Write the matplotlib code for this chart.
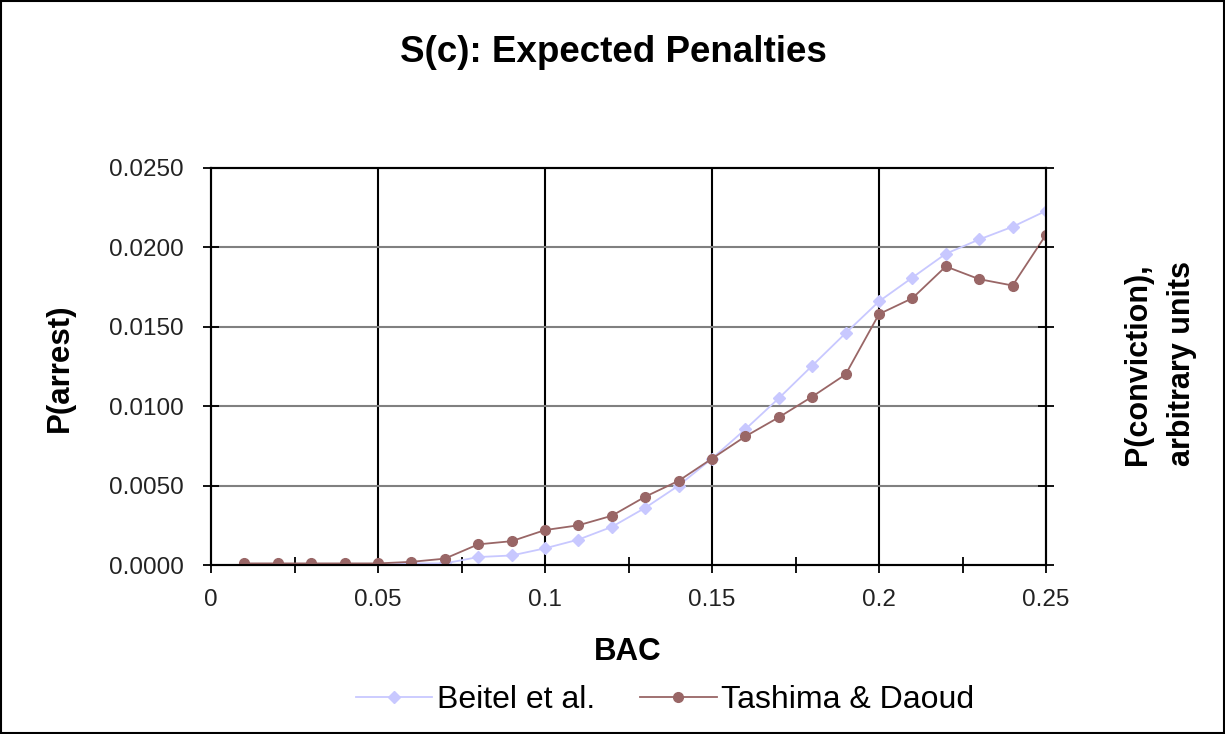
import matplotlib
matplotlib.use("Agg")
import matplotlib.pyplot as plt
from matplotlib.ticker import MultipleLocator, FormatStrFormatter, FixedLocator
from matplotlib.patches import Rectangle

plt.rcParams['font.family'] = ['Liberation Sans', 'DejaVu Sans']

# BAC values and the two curves
bac = [0.01, 0.02, 0.03, 0.04, 0.05, 0.06, 0.07, 0.08, 0.09, 0.10, 0.11, 0.12, 0.13,
       0.14, 0.15, 0.16, 0.17, 0.18, 0.19, 0.20, 0.21, 0.22, 0.23, 0.24, 0.25]
beitel = [0.0000, 0.0000, 0.0000, 0.0000, 0.0000, 0.0001, 0.0001, 0.0005, 0.0006,
          0.00105, 0.0016, 0.0024, 0.0036, 0.0050, 0.0067, 0.00855, 0.0105, 0.01255,
          0.0146, 0.0166, 0.0181, 0.0196, 0.0205, 0.0213, 0.0223]
tashima = [0.0001, 0.0001, 0.0001, 0.0001, 0.0001, 0.0002, 0.0004, 0.0013, 0.0015,
           0.0022, 0.0025, 0.0031, 0.0043, 0.0053, 0.0067, 0.0081, 0.0093, 0.0106,
           0.0120, 0.0158, 0.0168, 0.0188, 0.0180, 0.0176, 0.0208]

x_ticks = [0, 0.05, 0.1, 0.15, 0.2, 0.25]
x_labels = ["0", "0.05", "0.1", "0.15", "0.2", "0.25"]

W, H = 1225, 734
fig = plt.figure(figsize=(W / 100, H / 100), dpi=100)
fig.patches.append(Rectangle((0.001, 0.001), 0.998, 0.997, transform=fig.transFigure,
                             fill=False, edgecolor='black', linewidth=1.5))

ax = fig.add_axes([211 / W, 1 - 565 / H, (1046 - 211) / W, (565 - 168) / H])
ax.plot(bac, beitel, color='#c8c8ff', marker='D', markersize=6, linewidth=1.3,
        label='Beitel et al.', zorder=3)
ax.plot(bac, tashima, color='#996666', marker='o', markersize=7, linewidth=1.3,
        label='Tashima & Daoud', zorder=4)

ax.set_xlim(0, 0.25)
ax.set_ylim(0, 0.025)
ax.xaxis.set_major_locator(FixedLocator(x_ticks))
ax.set_xticklabels(x_labels)
ax.xaxis.set_minor_locator(MultipleLocator(0.025))
ax.yaxis.set_major_locator(MultipleLocator(0.005))
ax.yaxis.set_major_formatter(FormatStrFormatter('%.4f'))

# gridlines: black vertical, gray horizontal
for xv in x_ticks[1:-1]:
    ax.axvline(xv, color='black', linewidth=1.5, zorder=1)
for yv in [0.005, 0.01, 0.015, 0.02]:
    ax.axhline(yv, color='#808080', linewidth=1.5, zorder=1)

ax.tick_params(axis='both', which='both', direction='inout', length=11, width=1.3,
               labelsize=17.5, labelcolor='#222222')
ax.tick_params(axis='y', pad=14)
ax.tick_params(axis='x', pad=12)
for s in ax.spines.values():
    s.set_linewidth(1.5)

ax2 = ax.twinx()
ax2.set_ylim(0, 0.025)
ax2.yaxis.set_major_locator(MultipleLocator(0.005))
ax2.tick_params(axis='y', direction='inout', length=11, width=1.3, labelright=False)
for s in ax2.spines.values():
    s.set_linewidth(1.5)

fig.text(613 / W, 1 - 52 / H, "S(c): Expected Penalties", fontsize=26.5,
         fontweight='bold', ha='center', va='center')
fig.text(628 / W, 1 - 652 / H, "BAC", fontsize=22.5, fontweight='bold',
         ha='center', va='center')
fig.text(60 / W, 1 - 368 / H, "P(arrest)", fontsize=22.5, fontweight='bold',
         ha='center', va='center', rotation=90)
fig.text(1160 / W, 1 - 364 / H, "P(conviction),\narbitrary units", fontsize=22,
         fontweight='bold', ha='center', va='center', rotation=90,
         multialignment='center', linespacing=1.6)

fig.legend(loc='center', bbox_to_anchor=(665 / W, 1 - 700 / H), ncol=2, frameon=False,
           fontsize=23, handlelength=2.4, handletextpad=0.15, columnspacing=1.4,
           borderpad=0)

fig.savefig("out.png", dpi=100)
